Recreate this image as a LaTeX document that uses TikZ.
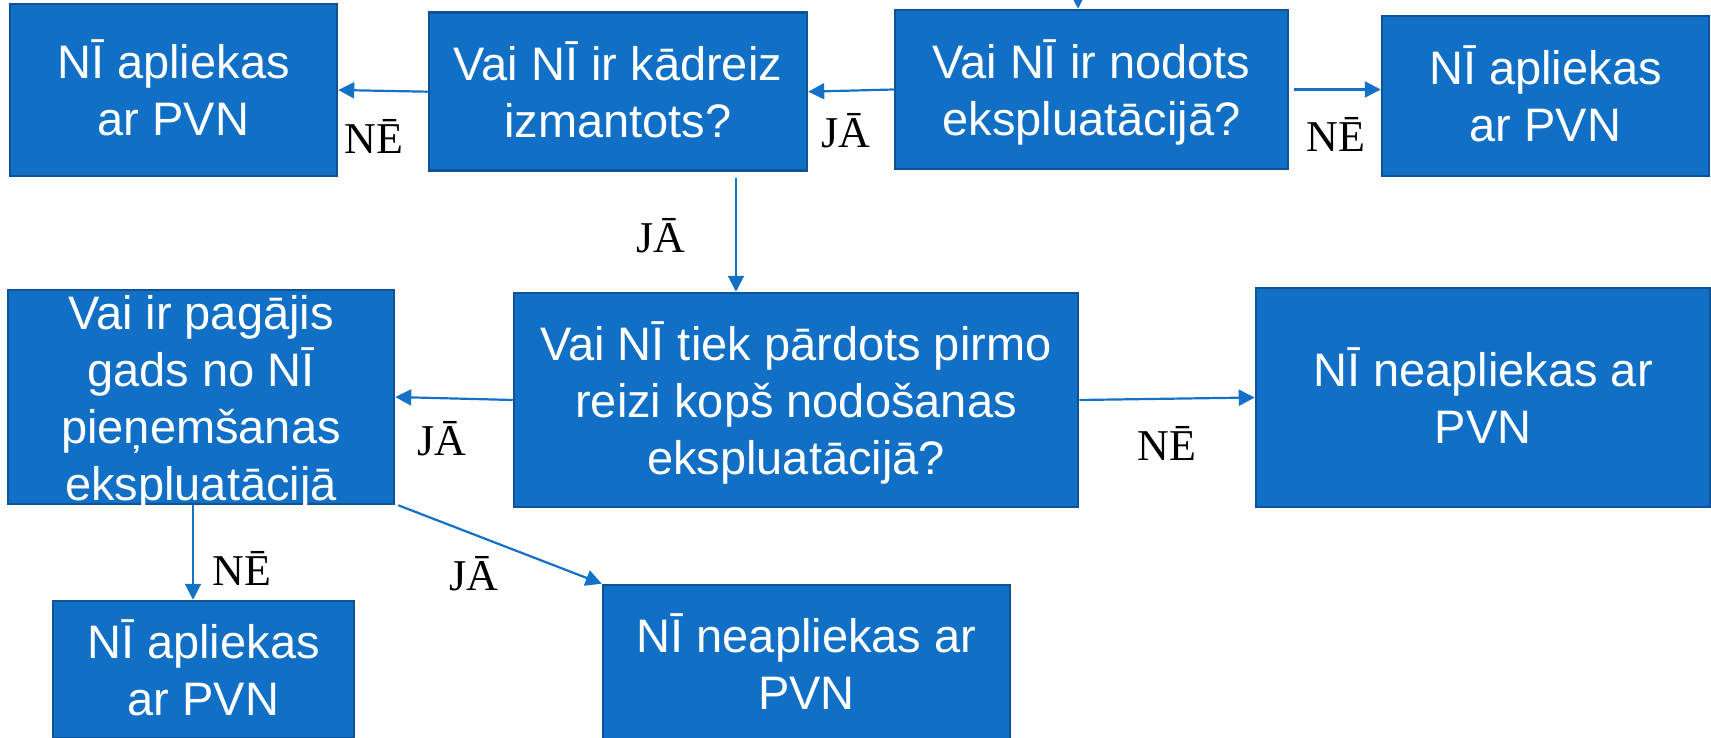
\documentclass[tikz,border=0pt]{standalone}
\usepackage{fontspec}
\setmainfont{Liberation Sans}
\newfontfamily\lserif{Liberation Serif}
\usetikzlibrary{arrows.meta}
\definecolor{boxfill}{RGB}{17,112,198}
\definecolor{boxline}{RGB}{16,82,150}
\definecolor{arrowblue}{RGB}{21,113,199}
\newcommand{\ls}{\rule[-11pt]{0pt}{57pt}}
\tikzset{
  box/.style={rectangle, fill=boxfill, draw=boxline, line width=2.5pt, text=white,
    align=center, inner sep=0pt, font=\fontsize{47}{57}\selectfont},
  arr/.style={draw=arrowblue, line width=2.2pt, -{Triangle[length=16pt,width=16pt]}},
  lab/.style={font=\lserif\fontsize{44}{50}\selectfont, inner sep=0pt, anchor=base}
}
\begin{document}
\begin{tikzpicture}[x=1pt,y=-1pt]
\useasboundingbox (0,0) rectangle (1711,738);
\clip (0,0) rectangle (1711,738);
% boxes
\node[box, minimum width=327pt, minimum height=172pt] (A) at (173.5,90) {\ls NĪ apliekas\\\ls ar PVN};
\node[box, minimum width=378pt, minimum height=158pt] (B) at (618,91.7) {\ls Vai NĪ ir kādreiz\\\ls izmantots?};
\node[box, minimum width=393pt, minimum height=159pt] (C) at (1091.5,89.5) {\ls Vai NĪ ir nodots\\\ls ekspluatācijā?};
\node[box, minimum width=327pt, minimum height=160pt] (D) at (1545.5,96) {\ls NĪ apliekas\\\ls ar PVN};
\node[box, minimum width=386pt, minimum height=214pt, inner ysep=-10pt] (E) at (201,397) {\ls Vai ir pagājis\\\ls gads no NĪ\\\ls pieņemšanas\\\ls ekspluatācijā};
\node[box, minimum width=564pt, minimum height=214pt] (F) at (796,400) {\ls Vai NĪ tiek pārdots pirmo\\\ls reizi kopš nodošanas\\\ls ekspluatācijā?};
\node[box, minimum width=454pt, minimum height=219pt] (G) at (1483,397.5) {\ls NĪ neapliekas ar\\\ls PVN};
\node[box, minimum width=301pt, minimum height=137pt] (H) at (203.5,669.5) {\ls NĪ apliekas\\\ls ar PVN};
\node[box, minimum width=407pt, minimum height=156pt] (I) at (806.5,663) {\ls NĪ neapliekas ar\\\ls PVN};
% connectors
\coordinate (top) at (1078,-30);
\draw[arr] (top) -- (top |- C.north);
\draw[arr] (B.west) -- (A.east);
\draw[arr] (C.west) -- (B.east);
\draw[arr, shorten <=5pt] (C.east) -- (C.east -| D.west);
\draw[arr, shorten <=6pt] ([xshift=118pt]B.south) -- ([xshift=118pt]B.south |- F.north);
\draw[arr] (F.west) -- (E.east);
\draw[arr] (F.east) -- (G.west);
\draw[arr] ([xshift=-8pt]E.south) -- ([xshift=-8pt]E.south |- H.north);
\draw[arr] ([xshift=3pt]E.south east) -- (I.north west);
% labels
\node[lab] (l1) at (374,154) {NĒ};
\node[lab] (l2) at (846,148) {JĀ};
\node[lab] (l3) at (1336,152) {NĒ};
\node[lab] (l4) at (661,252) {JĀ};
\node[lab] (l5) at (442,455) {JĀ};
\node[lab] (l6) at (1167,460) {NĒ};
\node[lab] (l7) at (242,585) {NĒ};
\node[lab] (l8) at (474,590) {JĀ};
\end{tikzpicture}
\end{document}
